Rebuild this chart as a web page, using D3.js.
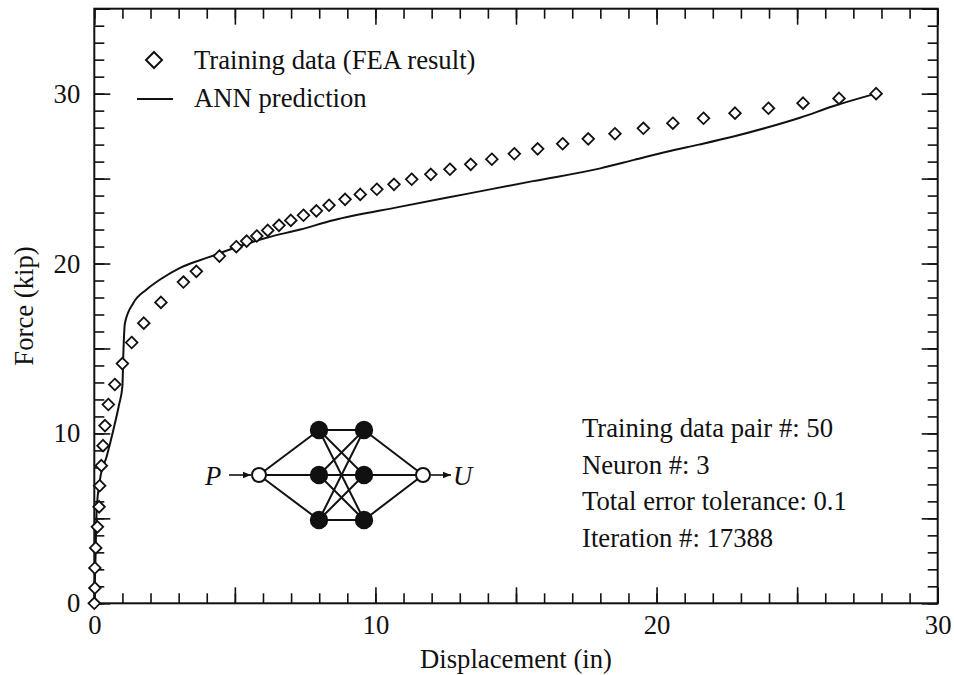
<!DOCTYPE html>
<html>
<head>
<meta charset="utf-8">
<script src="https://cdn.jsdelivr.net/npm/d3@7"></script>
<style>
  html, body { margin: 0; padding: 0; background: #fff; }
  svg { display: block; }
  text { font-family: "Liberation Serif", "Times New Roman", serif; fill: #111; }
</style>
</head>
<body>
<svg id="chart" width="954" height="675"></svg>
<script>
// Training data from the finite element analysis (displacement in inches, force in kip)
const trainDisp = [0, 0.02, 0.02, 0.05, 0.11, 0.17, 0.19, 0.25, 0.31, 0.38,
  0.5, 0.73, 1.0, 1.33, 1.76, 2.37, 3.17, 3.63, 4.45, 5.05,
  5.42, 5.78, 6.17, 6.57, 6.99, 7.44, 7.9, 8.35, 8.92, 9.46,
  10.05, 10.66, 11.29, 11.97, 12.65, 13.39, 14.14, 14.94, 15.77, 16.66,
  17.57, 18.52, 19.53, 20.58, 21.67, 22.79, 23.98, 25.21, 26.49, 27.81];
const trainForce = [0, 0.9, 2.08, 3.26, 4.5, 5.68, 6.92, 8.1, 9.28, 10.46,
  11.7, 12.88, 14.11, 15.35, 16.49, 17.71, 18.91, 19.54, 20.44, 20.99,
  21.32, 21.62, 21.95, 22.25, 22.54, 22.84, 23.1, 23.43, 23.78, 24.07,
  24.37, 24.66, 24.96, 25.25, 25.55, 25.84, 26.14, 26.46, 26.75, 27.05,
  27.34, 27.64, 27.96, 28.26, 28.55, 28.85, 29.14, 29.44, 29.72, 30.0];

// Neural network prediction curve
const annDisp = [0, 0.04, 0.085, 0.2, 0.44, 0.68, 0.88, 1.0, 1.03, 1.09,
  1.39, 1.86, 2.34, 3.05, 4.05, 5.18, 6.13, 7.32, 8.5, 10.9,
  13.25, 15.6, 18.0, 19.2, 20.4, 21.5, 22.7, 23.9, 25.1, 26.3, 27.8];
const annForce = [0, 2.5, 5.5, 7.27, 8.64, 10.22, 11.69, 12.77, 14.54, 16.5,
  17.68, 18.47, 19.06, 19.75, 20.36, 21.03, 21.52, 22.0, 22.55, 23.35,
  24.1, 24.85, 25.6, 26.1, 26.6, 27.0, 27.46, 27.99, 28.58, 29.27, 30.0];

// Axes
const xTickLabels = [0, 10, 20, 30];
const yTickLabels = [0, 10, 20, 30];
const xTitle = "Displacement (in)";
const yTitle = "Force (kip)";

// Legend and annotation text
const legendLabels = ["Training data (FEA result)", "ANN prediction"];
const infoLines = ["Training data pair #: 50", "Neuron #: 3",
  "Total error tolerance: 0.1", "Iteration #: 17388"];
// Network topology: input, two hidden layers, output
const layerSizes = [1, 3, 3, 1];

const svg = d3.select("#chart");
const W = 954, H = 675;
const margin = { left: 94.3, right: 16.3, top: 8.7, bottom: 71.7 };
const pw = W - margin.left - margin.right;
const ph = H - margin.top - margin.bottom;

const x = d3.scaleLinear().domain([0, 30]).range([margin.left, margin.left + pw]);
const y = d3.scaleLinear().domain([0, 35]).range([margin.top + ph, margin.top]);

const FS = 26.7;
const minorX = d3.range(0, 31, 1), majorX = d3.range(0, 31, 5);
const minorY = d3.range(0, 36, 1), majorY = d3.range(0, 36, 5);
const fmtX = d => xTickLabels.includes(d) ? d : "";
const fmtY = d => yTickLabels.includes(d) ? d : "";

function styleAxis(g) {
  g.select(".domain").remove();
  g.selectAll("line").attr("stroke", "#111").attr("stroke-width", 1.6);
  g.selectAll("text").style("font-size", FS + "px").attr("fill", "#111");
}

const bottomY = margin.top + ph, topY = margin.top;
const leftX = margin.left, rightX = margin.left + pw;

// Bottom axis (ticks pointing inward)
svg.append("g").attr("transform", `translate(0,${bottomY})`)
  .call(d3.axisBottom(x).tickValues(minorX).tickSize(-10).tickFormat(""))
  .call(styleAxis);
svg.append("g").attr("transform", `translate(0,${bottomY})`)
  .call(d3.axisBottom(x).tickValues(majorX).tickSize(-16).tickPadding(12).tickFormat(fmtX))
  .call(styleAxis);
// Top axis
svg.append("g").attr("transform", `translate(0,${topY})`)
  .call(d3.axisTop(x).tickValues(minorX).tickSize(-10).tickFormat(""))
  .call(styleAxis);
svg.append("g").attr("transform", `translate(0,${topY})`)
  .call(d3.axisTop(x).tickValues(majorX).tickSize(-16).tickFormat(""))
  .call(styleAxis);
// Left axis
svg.append("g").attr("transform", `translate(${leftX},0)`)
  .call(d3.axisLeft(y).tickValues(minorY).tickSize(-10).tickFormat(""))
  .call(styleAxis);
svg.append("g").attr("transform", `translate(${leftX},0)`)
  .call(d3.axisLeft(y).tickValues(majorY).tickSize(-16).tickPadding(14).tickFormat(fmtY))
  .call(styleAxis);
// Right axis
svg.append("g").attr("transform", `translate(${rightX},0)`)
  .call(d3.axisRight(y).tickValues(minorY).tickSize(-10).tickFormat(""))
  .call(styleAxis);
svg.append("g").attr("transform", `translate(${rightX},0)`)
  .call(d3.axisRight(y).tickValues(majorY).tickSize(-16).tickFormat(""))
  .call(styleAxis);

// Plot frame
svg.append("rect")
  .attr("x", leftX).attr("y", topY).attr("width", pw).attr("height", ph)
  .attr("fill", "none").attr("stroke", "#111").attr("stroke-width", 2);

// Axis titles
svg.append("text")
  .attr("x", x(15)).attr("y", 668)
  .attr("text-anchor", "middle").style("font-size", FS + "px")
  .text(xTitle);
svg.append("text")
  .attr("transform", `translate(33,${(topY + bottomY) / 2}) rotate(-90)`)
  .attr("text-anchor", "middle").style("font-size", FS + "px")
  .text(yTitle);

// ANN prediction line
const annPts = annDisp.map((d, i) => [d, annForce[i]]);
svg.append("path")
  .datum(annPts)
  .attr("fill", "none").attr("stroke", "#111").attr("stroke-width", 2)
  .attr("d", d3.line().x(d => x(d[0])).y(d => y(d[1])).curve(d3.curveMonotoneX));

// Training data diamonds
const diamond = (cx, cy, r) => `M${cx},${cy - r}L${cx + r},${cy}L${cx},${cy + r}L${cx - r},${cy}Z`;
const trainPts = trainDisp.map((d, i) => [d, trainForce[i]]);
svg.append("g").selectAll("path")
  .data(trainPts).join("path")
  .attr("d", d => diamond(x(d[0]), y(d[1]), 5.8))
  .attr("fill", "#fff").attr("stroke", "#111").attr("stroke-width", 1.8);

// Legend
svg.append("path")
  .attr("d", diamond(154, 60, 8))
  .attr("fill", "#fff").attr("stroke", "#111").attr("stroke-width", 2);
svg.append("line")
  .attr("x1", 137).attr("x2", 173).attr("y1", 99).attr("y2", 99)
  .attr("stroke", "#111").attr("stroke-width", 2);
svg.append("text").attr("x", 194).attr("y", 69)
  .style("font-size", FS + "px").text(legendLabels[0]);
svg.append("text").attr("x", 194).attr("y", 107)
  .style("font-size", FS + "px").text(legendLabels[1]);

// Annotation block
svg.append("g").selectAll("text")
  .data(infoLines).join("text")
  .attr("x", 582).attr("y", (d, i) => 437 + i * 36.5)
  .style("font-size", FS + "px")
  .text(d => d);

// Network schematic
const net = svg.append("g");
const layerX = [259, 319, 364, 423];
const netCy = 475, netGap = 45;
const nodes = layerSizes.map((n, li) =>
  d3.range(n).map(k => ({ x: layerX[li], y: netCy + (k - (n - 1) / 2) * netGap, layer: li })));
const links = [];
for (let li = 0; li < nodes.length - 1; li++)
  nodes[li].forEach(a => nodes[li + 1].forEach(b => links.push([a, b])));
net.selectAll("line.link").data(links).join("line")
  .attr("x1", d => d[0].x).attr("y1", d => d[0].y)
  .attr("x2", d => d[1].x).attr("y2", d => d[1].y)
  .attr("stroke", "#111").attr("stroke-width", 2);
const flat = nodes.flat();
net.selectAll("circle").data(flat).join("circle")
  .attr("cx", d => d.x).attr("cy", d => d.y)
  .attr("r", d => (d.layer === 0 || d.layer === layerSizes.length - 1) ? 7 : 8.2)
  .attr("fill", d => (d.layer === 0 || d.layer === layerSizes.length - 1) ? "#fff" : "#111")
  .attr("stroke", "#111").attr("stroke-width", 2);

// Input/output arrows
const defs = svg.append("defs");
defs.append("marker").attr("id", "arrowhead")
  .attr("viewBox", "0 0 10 10").attr("refX", 10).attr("refY", 5)
  .attr("markerWidth", 10).attr("markerHeight", 8).attr("markerUnits", "userSpaceOnUse")
  .attr("orient", "auto")
  .append("path").attr("d", "M0,1L10,5L0,9Z").attr("fill", "#111");
net.append("line").attr("x1", 229).attr("x2", 251).attr("y1", netCy).attr("y2", netCy)
  .attr("stroke", "#111").attr("stroke-width", 1.6).attr("marker-end", "url(#arrowhead)");
net.append("line").attr("x1", 431).attr("x2", 451).attr("y1", netCy).attr("y2", netCy)
  .attr("stroke", "#111").attr("stroke-width", 1.6).attr("marker-end", "url(#arrowhead)");
net.append("text").attr("x", 205).attr("y", netCy + 10)
  .style("font-size", FS + "px").style("font-style", "italic").text("P");
net.append("text").attr("x", 453).attr("y", netCy + 10)
  .style("font-size", FS + "px").style("font-style", "italic").text("U");
</script>
</body>
</html>
